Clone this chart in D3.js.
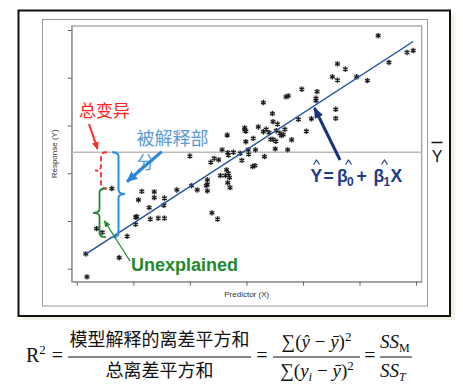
<!DOCTYPE html>
<html><head><meta charset="utf-8">
<script src="https://cdn.jsdelivr.net/npm/d3@7"></script>
<style>
html,body{margin:0;padding:0;background:#fff;}
svg{display:block;}
</style></head>
<body>
<script>
// ---- data ----
const xTicks = [0, 10, 20, 30, 40, 50, 60];
const yTicks = [0, 10, 20, 30, 40, 50];
const ptX = [53.3,58.4,59.5,55.2,46.1,47.5,45.2,46.1,49.5,51.4,39.8,42.5,42.3,42.3,37.0,37.4,33.0,45.8,45.8,41.5,39.2,34.6,34.7,35.5,40.6,29.7,29.7,29.9,32.1,33.5,33.0,34.0,35.3,36.8,35.9,36.5,36.2,34.3,34.7,35.2,38.0,31.2,29.9,26.6,35.1,37.3,31.6,30.3,25.7,20.0,26.7,27.7,26.8,28.9,30.4,33.2,24.3,25.1,23.7,29.2,31.1,31.5,26.5,26.8,25.4,26.3,27.0,23.1,23.1,22.9,23.1,26.7,27.1,20.3,21.3,17.7,11.5,13.7,13.7,15.5,10.9,6.2,15.4,12.8,23.9,24.9,10.6,10.4,13.0,14.4,15.5,10.4,3.5,4.5,8.9,1.6,7.5,1.8];
const ptY = [48.8,45.3,45.7,43.2,42.9,41.8,40.2,39.5,40.2,39.4,37.6,37.1,35.7,35.2,36.0,36.2,34.8,33.4,31.5,31.4,31.3,32.5,30.8,30.3,28.8,29.5,29.1,28.8,29.7,29.2,28.7,28.5,28.9,29.2,28.4,28.1,27.9,27.1,27.1,26.7,27.0,27.3,26.6,28.0,25.1,24.9,24.9,24.9,24.9,23.6,24.3,24.4,23.8,24.2,24.0,23.5,23.1,22.8,22.3,22.7,21.4,21.6,20.7,20.0,19.5,19.5,19.1,18.6,17.7,17.4,16.3,18.0,17.0,17.4,16.5,16.5,16.2,16.1,14.9,14.8,14.4,16.8,13.3,12.8,11.7,10.4,10.9,10.8,10.4,10.6,10.6,9.3,8.4,7.6,6.8,3.1,2.3,-1.7];
const beta0 = 1.84, beta1 = 0.769;
const fitRange = [1.6, 59.5];
const yMean = 24.4;
const focusX = 6.2, focusY = 16.8;

const W = 463, H = 385;
const svg = d3.select("body").append("svg").attr("width", W).attr("height", H);
svg.append("rect").attr("width", W).attr("height", H).attr("fill", "#fff");

// shadow + frames
svg.append("rect").attr("x", 23).attr("y", 15).attr("width", 432).attr("height", 305).attr("fill", "#efefe4");
svg.append("rect").attr("x", 18.5).attr("y", 10.5).attr("width", 431.5).attr("height", 305.5)
  .attr("fill", "#fff").attr("stroke", "#111").attr("stroke-width", 2);
svg.append("rect").attr("x", 42.5).attr("y", 19.5).attr("width", 385).attr("height", 286.5)
  .attr("fill", "#fff").attr("stroke", "#999").attr("stroke-width", 1);

const x = d3.scaleLinear().domain([-0.9, 61]).range([71.7, 421.7]);
const y = d3.scaleLinear().domain([-2.72, 50.84]).range([281.7, 26]);

// plot box
svg.append("rect").attr("x", x.range()[0]).attr("y", y.range()[1])
  .attr("width", x.range()[1] - x.range()[0]).attr("height", y.range()[0] - y.range()[1])
  .attr("fill", "#fff").attr("stroke", "#999").attr("stroke-width", 1.2);

const gx = svg.append("g").attr("transform", `translate(0,${y.range()[0]})`)
  .call(d3.axisBottom(x).tickValues(xTicks).tickSize(4).tickSizeOuter(0).tickFormat(""));
const gy = svg.append("g").attr("transform", `translate(${x.range()[0]},0)`)
  .call(d3.axisLeft(y).tickValues(yTicks).tickSize(4).tickSizeOuter(0).tickFormat(""));
[gx, gy].forEach(g => { g.select(".domain").attr("stroke", "#999").attr("stroke-width", 1.2); g.selectAll(".tick line").attr("stroke", "#666"); });

svg.append("text").attr("x", (x.range()[0] + x.range()[1]) / 2).attr("y", 297)
  .attr("text-anchor", "middle").attr("font-family", "Liberation Sans, Arial, sans-serif")
  .attr("font-size", 8).attr("fill", "#333").text("Predictor (X)");
svg.append("text").attr("transform", `translate(57,${(y.range()[0] + y.range()[1]) / 2}) rotate(-90)`)
  .attr("text-anchor", "middle").attr("font-family", "Liberation Sans, Arial, sans-serif")
  .attr("font-size", 8).attr("fill", "#333").text("Response (Y)");

// mean line
svg.append("line").attr("x1", x.range()[0]).attr("x2", x.range()[1])
  .attr("y1", y(yMean)).attr("y2", y(yMean)).attr("stroke", "#bbb").attr("stroke-width", 1.5);

// points
const pts = ptX.map((v, i) => [v, ptY[i]]);
const sym = d3.symbol(d3.symbolAsterisk, 20);
const pg = svg.append("g");
pg.selectAll("rect").data(pts).join("rect")
  .attr("x", d => x(d[0]) - 2.6).attr("y", d => y(d[1]) - 2.6).attr("width", 5.2).attr("height", 5.2)
  .attr("fill", "#d4d4d4");
pg.selectAll("path").data(pts).join("path")
  .attr("transform", d => `translate(${x(d[0])},${y(d[1])})`)
  .attr("d", sym).attr("fill", "none").attr("stroke", "#1a1a1a").attr("stroke-width", 1.2);

// regression line
svg.append("line")
  .attr("x1", x(fitRange[0])).attr("y1", y(beta0 + beta1 * fitRange[0]))
  .attr("x2", x(fitRange[1])).attr("y2", y(beta0 + beta1 * fitRange[1]))
  .attr("stroke", "#1f4f9e").attr("stroke-width", 1.4);

// Y bar label
svg.append("text").attr("x", 437).attr("y", 161.7).attr("text-anchor", "middle")
  .attr("font-family", "Liberation Sans, Arial, sans-serif").attr("font-size", 16).attr("fill", "#111").text("Y");
svg.append("line").attr("x1", 431.5).attr("x2", 442.5).attr("y1", 142.5).attr("y2", 142.5)
  .attr("stroke", "#111").attr("stroke-width", 1.5);

// markers
const defs = svg.append("defs");
function marker(id, color, len, wid) {
  defs.append("marker").attr("id", id).attr("markerUnits", "userSpaceOnUse")
    .attr("markerWidth", len).attr("markerHeight", wid).attr("refX", len - 1).attr("refY", wid / 2)
    .attr("orient", "auto").append("path")
    .attr("d", `M0,0 L${len},${wid / 2} L0,${wid} z`).attr("fill", color);
}
marker("mRed", "#ff2a2a", 8, 7);
marker("mBlue", "#2a86d8", 11, 10);
marker("mNavy", "#1c3377", 11, 9);
marker("mGreen", "#23892a", 7, 6);

function brace(xe, y1, y2, w, dir, tipY) {
  const ym = tipY === undefined ? (y1 + y2) / 2 : tipY;
  const xb = xe + dir * w * 0.5, xt = xe + dir * w;
  const r = Math.min(4, (y2 - y1) / 6);
  return `M${xe},${y1} Q${xb},${y1} ${xb},${y1 + r} L${xb},${ym - r} Q${xb},${ym} ${xt},${ym} ` +
         `Q${xb},${ym} ${xb},${ym + r} L${xb},${y2 - r} Q${xb},${y2} ${xe},${y2}`;
}
const yFit = beta0 + beta1 * focusX;
// red dashed brace (total)
svg.append("path").attr("d", brace(107, y(yMean), y(focusY), 12, -1))
  .attr("fill", "none").attr("stroke", "#ff2a2a").attr("stroke-width", 1.8).attr("stroke-dasharray", "5,3");
// green brace
svg.append("path").attr("d", brace(106, y(focusY), y(yFit), 13, -1))
  .attr("fill", "none").attr("stroke", "#23892a").attr("stroke-width", 1.8);
// blue brace
svg.append("path").attr("d", brace(112, y(yMean), y(yFit), 13, 1, 194))
  .attr("fill", "none").attr("stroke", "#2a8ee0").attr("stroke-width", 2);

// annotations
svg.append("text").attr("x", 79).attr("y", 116.5).attr("font-family", "Noto Sans CJK SC")
  .attr("font-size", 17).attr("fill", "#ff2222").text("总变异");
svg.append("line").attr("x1", 89).attr("y1", 124).attr("x2", 97.5).attr("y2", 149)
  .attr("stroke", "#ff2a2a").attr("stroke-width", 2).attr("marker-end", "url(#mRed)");

svg.append("text").attr("x", 136.5).attr("y", 144.5).attr("font-family", "Noto Sans CJK SC")
  .attr("font-size", 18).attr("fill", "#5b9bd5").text("被解释部");
svg.append("text").attr("x", 136.5).attr("y", 169).attr("font-family", "Noto Sans CJK SC")
  .attr("font-size", 18).attr("fill", "#5b9bd5").text("分");
svg.append("line").attr("x1", 161.7).attr("y1", 151.7).attr("x2", 127).attr("y2", 181.5)
  .attr("stroke", "#2a86d8").attr("stroke-width", 3).attr("marker-end", "url(#mBlue)");

svg.append("text").attr("x", 131).attr("y", 270.5).attr("font-family", "Liberation Sans, Arial, sans-serif")
  .attr("font-weight", "bold").attr("font-size", 18).attr("fill", "#23892a").text("Unexplained");
svg.append("line").attr("x1", 130).attr("y1", 261).attr("x2", 104.5).attr("y2", 221)
  .attr("stroke", "#23892a").attr("stroke-width", 1.3).attr("marker-end", "url(#mGreen)");

svg.append("line").attr("x1", 340).attr("y1", 160).attr("x2", 314.5).attr("y2", 108)
  .attr("stroke", "#1c3377").attr("stroke-width", 3).attr("marker-end", "url(#mNavy)");

// equation
const eqColor = "#1c3a85";
const eq = svg.append("g").attr("font-family", "Liberation Sans, Arial, sans-serif")
  .attr("font-weight", "bold").attr("fill", eqColor);
const eqParts = [["Y", 310.5, 181.7, 17.5], ["=", 323.5, 181.7, 17.5], ["β", 337, 181.7, 17.5], ["0", 347, 185.5, 12],
  ["+", 356.5, 181.7, 17.5], ["β", 373.5, 181.7, 17.5], ["1", 383.5, 185.5, 12], ["X", 390.5, 181.7, 17.5]];
eqParts.forEach(p => eq.append("text").attr("x", p[1]).attr("y", p[2]).attr("font-size", p[3]).text(p[0]));
[316.5, 348.5, 384.5].forEach(hx => svg.append("path")
  .attr("d", `M${hx - 3},164.5 L${hx},160 L${hx + 3},164.5`)
  .attr("fill", "none").attr("stroke", eqColor).attr("stroke-width", 1.2));

// formula
const f = svg.append("g").attr("fill", "#111");
const serif = "Liberation Serif, DejaVu Serif, serif";
const fr = f.append("text").attr("x", 26).attr("y", 362).attr("font-family", serif).attr("font-size", 20);
fr.append("tspan").text("R");
fr.append("tspan").attr("dy", -8).attr("font-size", 13).text("2");
f.append("text").attr("x", 57.5).attr("y", 362).attr("text-anchor", "middle").attr("font-family", serif).attr("font-size", 20).text("=");
f.append("text").attr("x", 159.5).attr("y", 346).attr("text-anchor", "middle").attr("font-family", "Noto Sans CJK SC")
  .attr("font-size", 18).text("模型解释的离差平方和");
f.append("line").attr("x1", 68).attr("x2", 251).attr("y1", 357).attr("y2", 357).attr("stroke", "#111").attr("stroke-width", 1);
f.append("text").attr("x", 159.5).attr("y", 377).attr("text-anchor", "middle").attr("font-family", "Noto Sans CJK SC")
  .attr("font-size", 18).text("总离差平方和");
f.append("text").attr("x", 262).attr("y", 362).attr("text-anchor", "middle").attr("font-family", serif).attr("font-size", 20).text("=");
const n2 = f.append("text").attr("x", 316.5).attr("y", 348).attr("text-anchor", "middle").attr("font-family", serif).attr("font-size", 19);
n2.append("tspan").text("∑(");
n2.append("tspan").attr("font-style", "italic").text("ŷ");
n2.append("tspan").text(" − ");
n2.append("tspan").attr("font-style", "italic").text("ȳ");
n2.append("tspan").text(")");
n2.append("tspan").attr("dy", -7).attr("font-size", 13).text("2");
f.append("line").attr("x1", 273).attr("x2", 360).attr("y1", 357).attr("y2", 357).attr("stroke", "#111").attr("stroke-width", 1);
const d2 = f.append("text").attr("x", 317).attr("y", 377).attr("text-anchor", "middle").attr("font-family", serif).attr("font-size", 19);
d2.append("tspan").text("∑(");
d2.append("tspan").attr("font-style", "italic").text("y");
d2.append("tspan").attr("dy", 4).attr("font-size", 13).attr("font-style", "italic").text("i");
d2.append("tspan").attr("dy", -4).text(" − ");
d2.append("tspan").attr("font-style", "italic").text("ȳ");
d2.append("tspan").text(")");
d2.append("tspan").attr("dy", -7).attr("font-size", 13).text("2");
f.append("text").attr("x", 370).attr("y", 362).attr("text-anchor", "middle").attr("font-family", serif).attr("font-size", 20).text("=");
const n3 = f.append("text").attr("x", 380).attr("y", 348).attr("font-family", serif).attr("font-size", 19);
n3.append("tspan").attr("font-style", "italic").text("SS");
n3.append("tspan").attr("dy", 4).attr("font-size", 12).text("M");
f.append("line").attr("x1", 380).attr("x2", 412).attr("y1", 357).attr("y2", 357).attr("stroke", "#111").attr("stroke-width", 1);
const d3t = f.append("text").attr("x", 380).attr("y", 377).attr("font-family", serif).attr("font-size", 19);
d3t.append("tspan").attr("font-style", "italic").text("SS");
d3t.append("tspan").attr("dy", 4).attr("font-size", 12).attr("font-style", "italic").text("T");
</script>
</body></html>
